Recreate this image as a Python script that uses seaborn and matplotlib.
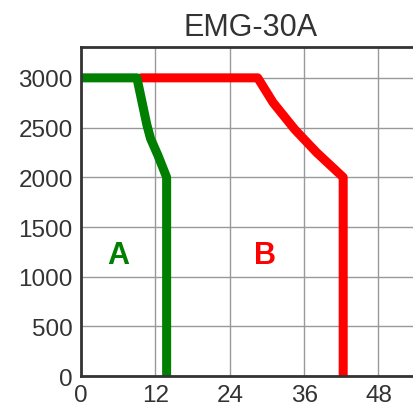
import pandas as pd
import matplotlib
matplotlib.use('Agg')
import matplotlib.pyplot as plt
import seaborn as sns

# curve A (green)
a_x = [0, 9, 10.6, 11.2, 12.4, 13.8, 13.8]
a_y = [3000, 3000, 2530, 2390, 2220, 2000, 0]
# curve B (red)
b_x = [9.7, 28.5, 31, 34.5, 38, 42.3, 42.3]
b_y = [3000, 3000, 2750, 2480, 2250, 2000, 0]

x_ticks = [0, 12, 24, 36, 48]
y_ticks = [0, 500, 1000, 1500, 2000, 2500, 3000]

sns.set_style('whitegrid')
plt.rcParams['font.family'] = ['Liberation Sans', 'DejaVu Sans']

df_a = pd.DataFrame({'x': a_x, 'y': a_y})
df_b = pd.DataFrame({'x': b_x, 'y': b_y})

fig = plt.figure(figsize=(4.14, 4.14), dpi=100)
ax = fig.add_axes([0.196, 0.089, 0.82, 0.795])

sns.lineplot(data=df_b, x='x', y='y', sort=False, estimator=None, color='#ff0000',
             linewidth=6.5, ax=ax)
sns.lineplot(data=df_a, x='x', y='y', sort=False, estimator=None, color='#007f00',
             linewidth=6.5, ax=ax)

ax.text(6, 1220, 'A', color='#007f00', fontsize=22, fontweight='bold', ha='center', va='center')
ax.text(29.7, 1220, 'B', color='#ff0000', fontsize=22, fontweight='bold', ha='center', va='center')

ax.set_xlim(0, 54.8)
ax.set_ylim(0, 3310)
ax.set_xticks(x_ticks)
ax.set_yticks(y_ticks)
ax.tick_params(labelsize=17.5, colors='#333333', length=0, pad=6)
ax.grid(True, color='#999999', linewidth=1)
for s in ax.spines.values():
    s.set_color('#333333')
    s.set_linewidth(2)
ax.set_xlabel('')
ax.set_ylabel('')
ax.set_title('EMG-30A', fontsize=22, color='#333333', pad=9)

plt.savefig('out.png', dpi=100)
